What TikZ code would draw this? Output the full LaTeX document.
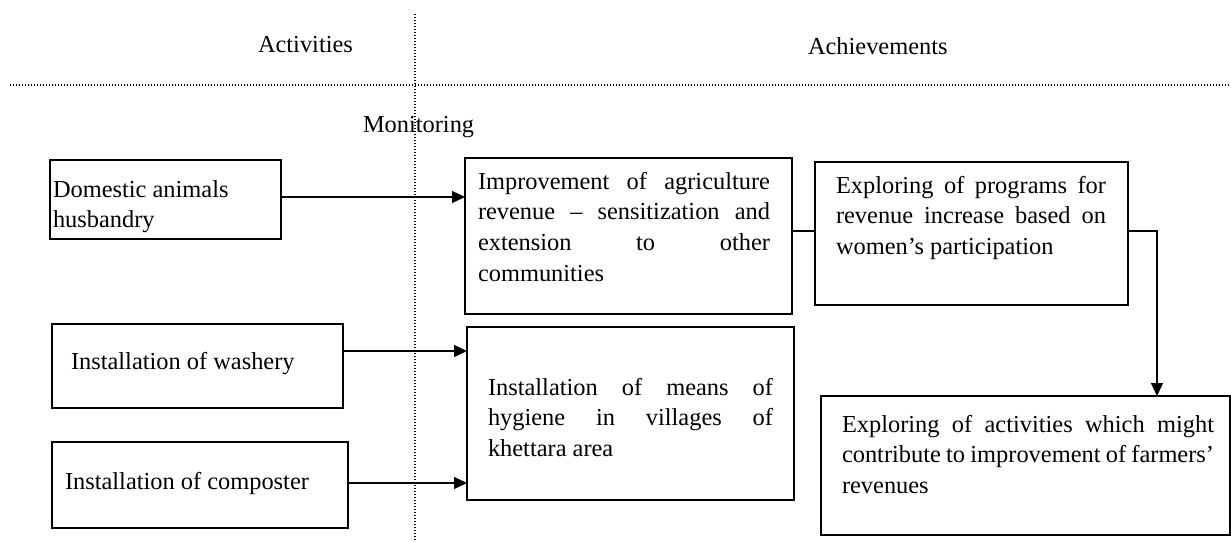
\documentclass[tikz,border=0pt]{standalone}
\usepackage{fontspec}
\setmainfont{Liberation Serif}
\usetikzlibrary{arrows.meta,calc}
% one fully justified line of a text block
\newcommand\jline[1]{\makebox[\linewidth][s]{#1}}
\begin{document}
\begin{tikzpicture}[x=0.5pt,y=-0.5pt,
  every node/.style={inner sep=0pt, outer sep=0pt},
  thinbox/.style={draw, line width=0.6pt, anchor=north west},
  thickbox/.style={draw, line width=1pt, anchor=north west},
  txt/.style={anchor=base west, font=\fontsize{12.2}{15.4}\selectfont},
  guide/.style={line width=0.6pt, dash pattern=on 0.5pt off 1pt},
  link/.style={line width=0.6pt},
  arr/.style={link, -{Triangle[width=6pt,length=6.5pt]}}]
\useasboundingbox (0,0) rectangle (1231,541);

% dividing guides
\draw[guide] (415,14) -- (415,541);
\draw[guide] (10,85) -- (1231,85);

% column headings
\node[txt] (hact) at (258,52) {Activities};
\node[txt] (hach) at (808,54) {Achievements};
\node[txt] (hmon) at (363,132) {Monitoring};

% activity boxes
\node[thinbox, minimum width=115.5pt, minimum height=39.5pt] (dom) at (50,160) {};
\node[txt] (domt) at (53,197) {\parbox[t]{120pt}{Domestic animals\\husbandry}};

\node[thinbox, minimum width=145.5pt, minimum height=42pt] (wash) at (52,324) {};
\node[txt] (washt) at (71,369) {Installation of washery};

\node[thinbox, minimum width=148pt, minimum height=43pt] (comp) at (52,442) {};
\node[txt] (compt) at (65,489) {Installation of composter};

% achievement boxes
\node[thickbox, minimum width=163.5pt, minimum height=78pt] (imp) at (465,158) {};
\node[txt] (impt) at (478,189) {\parbox[t]{146pt}{%
  \jline{Improvement of agriculture}\\
  \jline{revenue – sensitization and}\\
  \jline{extension to other}\\
  communities}};

\node[thickbox, minimum width=156.5pt, minimum height=71.5pt] (prog) at (815,162) {};
\node[txt] (progt) at (836,193) {\parbox[t]{135pt}{%
  \jline{Exploring of programs for}\\
  \jline{revenue increase based on}\\
  women’s participation}};

\node[thickbox, minimum width=163.5pt, minimum height=86.5pt] (hyg) at (467,327) {};
\node[txt] (hygt) at (488,395) {\parbox[t]{142.5pt}{%
  \jline{Installation of means of}\\
  \jline{hygiene in villages of}\\
  khettara area}};

\node[thickbox, minimum width=204.5pt, minimum height=69.5pt] (fin) at (821,396) {};
\node[txt] (fint) at (842,432) {\parbox[t]{186pt}{%
  \jline{Exploring of activities which might}\\
  \jline{contribute to improvement of farmers’}\\
  revenues}};

% connectors
\coordinate (a1) at ([yshift=1.25pt]dom.east);
\draw[arr] (a1) -- (a1 -| imp.west);
\coordinate (a2) at ([yshift=7.5pt]wash.east);
\draw[arr] (a2) -- (a2 -| hyg.west);
\coordinate (a3) at ([yshift=1pt]comp.east);
\draw[arr] (a3) -- (a3 -| hyg.west);
\coordinate (a4) at ([yshift=2.5pt]imp.east);
\draw[link] (a4) -- (a4 -| prog.west);
\coordinate (a5) at ([yshift=1.25pt]prog.east);
\draw[arr] (a5) -| ([xshift=168pt]fin.north west);
\end{tikzpicture}
\end{document}
